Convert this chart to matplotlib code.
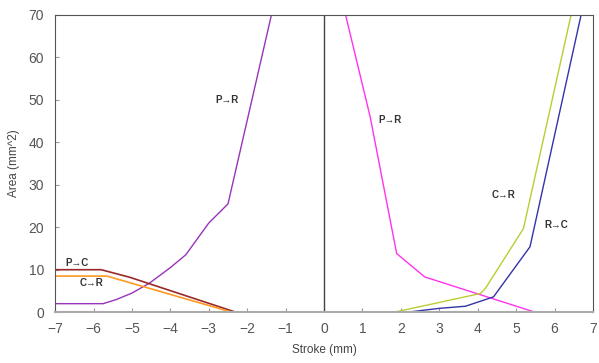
import matplotlib
matplotlib.use('Agg')
import matplotlib.pyplot as plt

plt.rcParams['font.family'] = ['Liberation Sans', 'DejaVu Sans']

# left side (negative stroke)
pr_left_x = [-7, -5.75, -5.4, -5.0, -4.55, -4.0, -3.6, -3.0, -2.5, -1.37]
pr_left_y = [2, 2, 3, 4.5, 6.8, 10.5, 13.5, 21, 25.5, 70]
pc_left_x = [-7, -5.8, -5.05, -2.3]
pc_left_y = [10, 10, 8.2, 0]
cr_left_x = [-7, -5.65, -2.4]
cr_left_y = [8.5, 8.5, 0]

# right side (positive stroke)
pr_right_x = [0.56, 1.2, 1.89, 2.62, 5.49]
pr_right_y = [70, 46, 13.8, 8.3, 0]
cr_right_x = [1.83, 4.07, 4.2, 5.19, 6.43]
cr_right_y = [0, 4.4, 5.6, 19.7, 70]
rc_right_x = [2.17, 3.0, 3.68, 4.41, 5.36, 6.69]
rc_right_y = [0, 0.9, 1.4, 3.6, 15.4, 70]

xticks = list(range(-7, 8))
yticks = list(range(0, 71, 10))

fig = plt.figure(figsize=(5.99, 3.63), dpi=100)
ax = fig.add_axes([0.092, 0.140, 0.898, 0.819])

ax.plot(pr_left_x, pr_left_y, color='#9933BB', lw=1)
ax.plot(pc_left_x, pc_left_y, color='#992828', lw=1.2)
ax.plot(cr_left_x, cr_left_y, color='#FF9922', lw=1.2)
ax.plot(pr_right_x, pr_right_y, color='#FF33EE', lw=1)
ax.plot(cr_right_x, cr_right_y, color='#BBCC33', lw=1)
ax.plot(rc_right_x, rc_right_y, color='#3333AA', lw=1)

ax.axvline(0, color='#444444', lw=1)

lbl = dict(fontsize=7, fontweight='bold', color='#333333', ha='center', va='center')
ax.text(-2.52, 50, 'P→R', **lbl)
ax.text(1.71, 45.3, 'P→R', **lbl)
ax.text(-6.44, 11.6, 'P→C', **lbl)
ax.text(-6.05, 6.8, 'C→R', **lbl)
ax.text(4.67, 27.7, 'C→R', **lbl)
ax.text(6.05, 20.5, 'R→C', **lbl)

ax.set_xlim(-7, 7)
ax.set_ylim(0, 70)
ax.set_xticks(xticks)
ax.set_yticks(yticks)
ax.set_xticklabels(['\u2212%d' % -t if t < 0 else str(t) for t in xticks])
ax.tick_params(axis='both', direction='in', length=3, colors='#999999',
               labelcolor='#555555', labelsize=10)
ax.tick_params(axis='x', pad=7)
ax.tick_params(axis='y', pad=8)

for side in ['top', 'left', 'right']:
    ax.spines[side].set_color('#555555')
ax.spines['bottom'].set_color('#aaaaaa')
ax.spines['bottom'].set_linewidth(1.5)

ax.set_xlabel('Stroke (mm)', fontsize=8.5, color='#444444', labelpad=6)
ax.set_ylabel('Area (mm^2)', fontsize=8.5, color='#444444', labelpad=6)

fig.savefig('out.png', dpi=100)
